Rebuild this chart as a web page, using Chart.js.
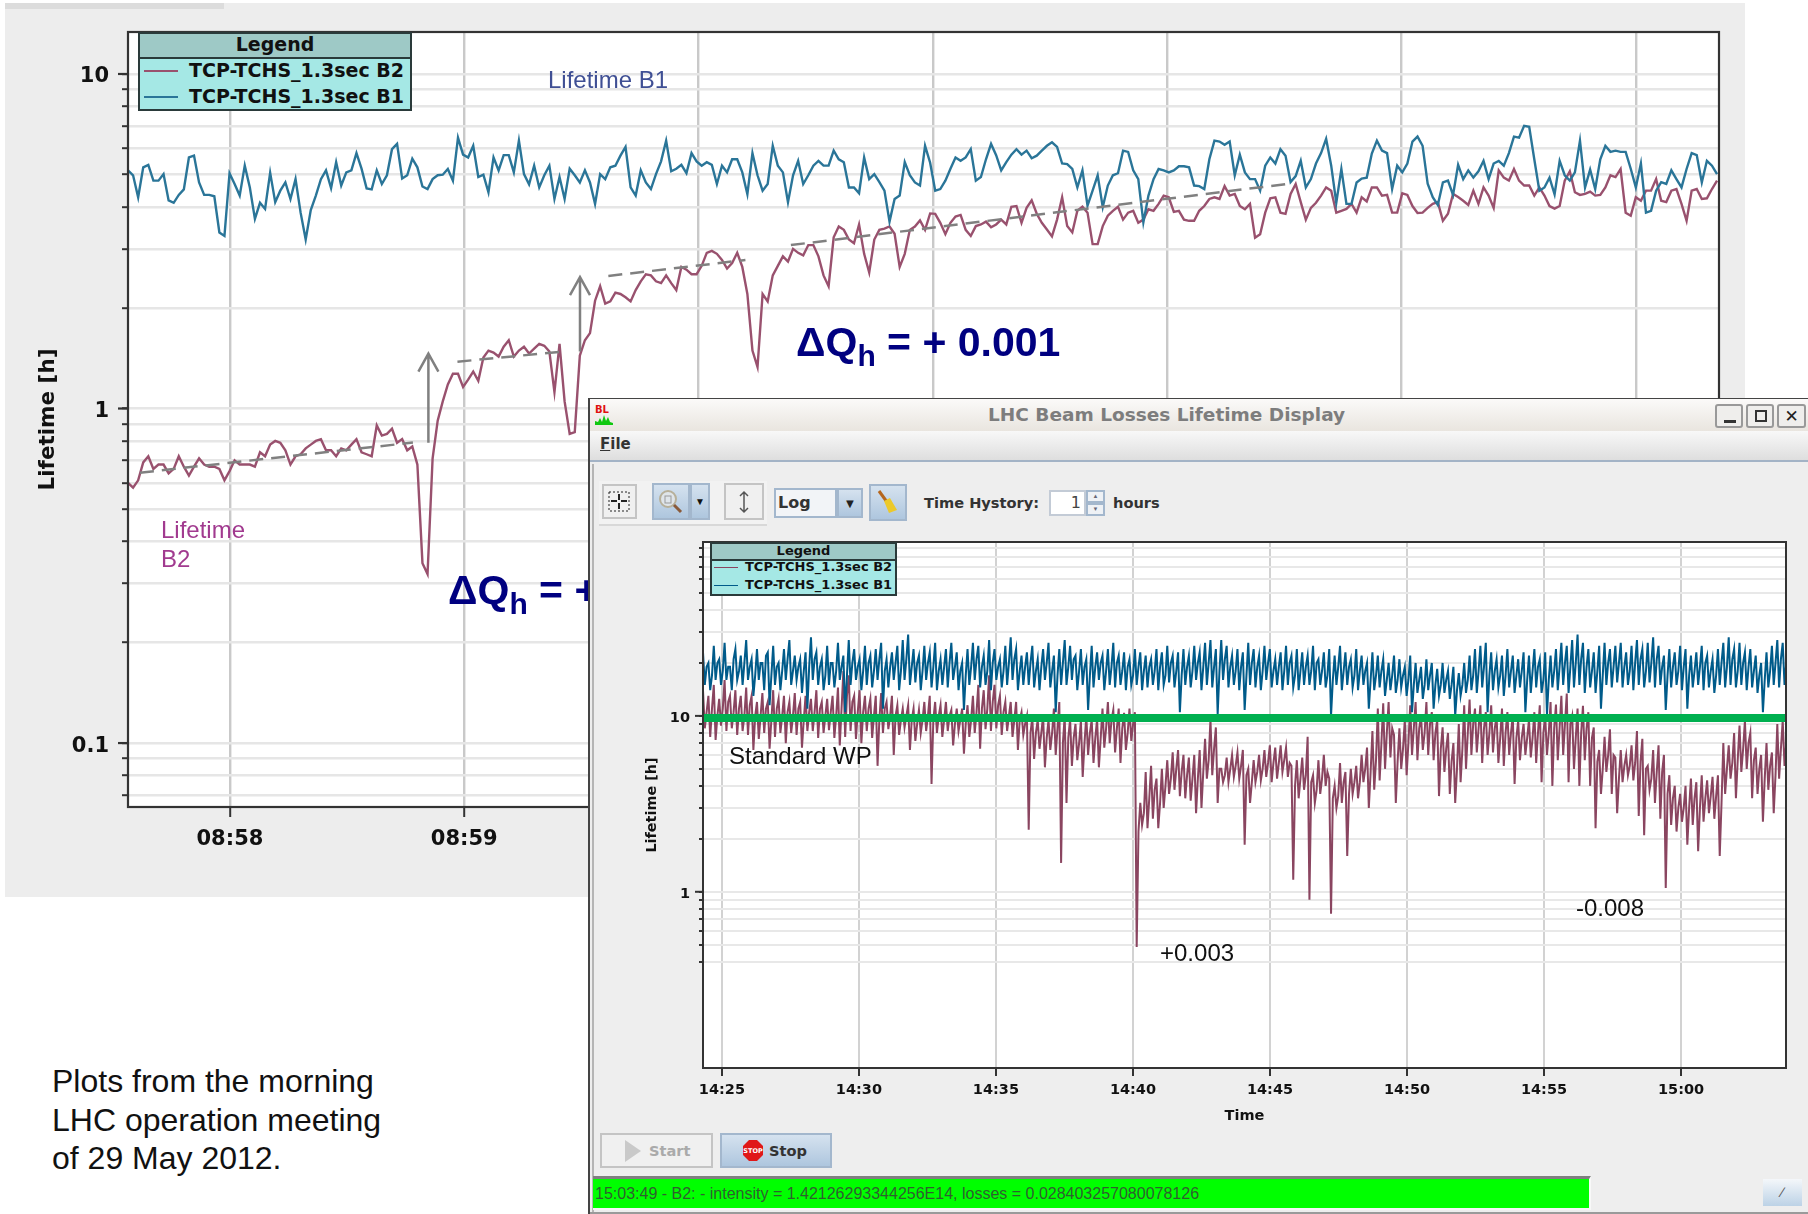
<!DOCTYPE html>
<html>
<head>
<meta charset="utf-8">
<title>LHC Beam Losses Lifetime</title>
<script src="https://cdn.jsdelivr.net/npm/chart.js@4/dist/chart.umd.min.js"></script>
<style>
html,body{margin:0;padding:0;background:#fff;width:1808px;height:1214px;overflow:hidden;font-family:"Liberation Sans",Arial,sans-serif}
.a{position:absolute;white-space:nowrap;box-sizing:border-box}
.d{font-family:"DejaVu Sans",sans-serif;font-weight:bold}
.legend{background:#a5e8e5;border:2px solid #2a3a3a;color:#111}
.legend .head{position:absolute;left:0;right:0;top:0;background:#9ec9c6;border-bottom:2px solid #2a3a3a;text-align:center}
.btn{border:2px solid #c4c4c4;background:#f0f0f0}
.on{border:2px solid #a3b7cd;background:linear-gradient(#d5e2ef,#aec6de)}
.dq{color:#000080;font-weight:bold;font-size:41px}
.dq sub{font-size:30px;vertical-align:-10px;line-height:0}
.note{font-size:24px;color:#111}
canvas{position:absolute}
</style>
</head>
<body>

<!-- morning plot -->
<div class="a" style="left:5px;top:3px;width:1740px;height:894px;background:#ededed"></div>
<div class="a" style="left:5px;top:3px;width:219px;height:6px;background:#dcdcdc"></div>
<canvas id="topChart" style="left:4px;top:3px;filter:blur(.45px)"></canvas>

<div class="a legend" style="left:138px;top:32px;width:274px;height:79px">
  <div class="head d" style="height:23px;font-size:19px;line-height:21px">Legend</div>
  <div class="a" style="left:4px;top:36px;width:34px;height:2px;background:#99516e"></div>
  <div class="a" style="left:4px;top:62px;width:34px;height:2px;background:#2a7598"></div>
  <div class="a d" style="left:49px;top:25px;font-size:19px">TCP-TCHS_1.3sec B2</div>
  <div class="a d" style="left:49px;top:51px;font-size:19px">TCP-TCHS_1.3sec B1</div>
</div>
<div class="a" style="left:548px;top:66px;font-size:24px;color:#3f4f94">Lifetime B1</div>
<div class="a" style="left:161px;top:515px;font-size:24px;line-height:29px;color:#a13a8f">Lifetime<br>B2</div>
<div class="a dq" style="left:796px;top:319px">&Delta;Q<sub>h</sub> = + 0.001</div>
<div class="a dq" style="left:448px;top:567px">&Delta;Q<sub>h</sub> = +</div>
<div class="a" style="left:52px;top:1062px;font-size:32px;line-height:38.6px;color:#111">Plots from the morning<br>LHC operation meeting<br>of 29 May 2012.</div>

<!-- lifetime display window -->
<div class="a" style="left:588px;top:398px;width:1220px;height:816px;background:#eeeeee;border-left:2px solid #444;border-top:1px solid #444"></div>
<div class="a" style="left:590px;top:399px;width:1218px;height:32px;background:linear-gradient(#fbfaf9,#e9e5df)"></div>
<div class="a d" style="left:988px;top:404px;font-size:18.5px;color:#7d7d7d">LHC Beam Losses Lifetime Display</div>
<svg class="a" style="left:594px;top:403px" width="24" height="24">
  <text x="1" y="10" font-size="10" font-weight="bold" font-family="DejaVu Sans" fill="#e01010">BL</text>
  <path d="M1 22V18L4 19L6 15L8 19L10 12L12 18L14 14L16 19L19 20V22Z" fill="#10c810"/>
</svg>
<div class="a btn" style="left:1715px;top:404px;width:28px;height:24px;border-color:#999;border-radius:3px;background:#efeeec"><div class="a" style="left:7px;top:14px;width:12px;height:3px;background:#333"></div></div>
<div class="a btn" style="left:1746px;top:404px;width:28px;height:24px;border-color:#999;border-radius:3px;background:#efeeec"><div class="a" style="left:7px;top:4px;width:12px;height:12px;border:2px solid #333"></div></div>
<div class="a btn d" style="left:1777px;top:404px;width:29px;height:24px;border-color:#999;border-radius:3px;background:#efeeec;font-size:17px;line-height:20px;text-align:center;color:#222">&#x2715;</div>
<div class="a" style="left:590px;top:431px;width:1218px;height:31px;background:linear-gradient(#f8f8f8,#dedede);border-bottom:2px solid #a3b3c6"></div>
<div class="a d" style="left:600px;top:435px;font-size:15px;color:#333"><u>F</u>ile</div>
<div class="a" style="left:592px;top:464px;width:2px;height:750px;background:#b5b5b5"></div>

<div class="a" style="left:599px;top:481px;width:168px;height:45px;background:#f2f2f2;border-bottom:2px solid #d8d8d8"></div>
<div class="a btn" style="left:602px;top:484px;width:35px;height:35px"></div>
<svg class="a" style="left:606px;top:489px" width="26" height="25"><rect x="3" y="3" width="20" height="19" fill="none" stroke="#222" stroke-dasharray="2 2"/><path d="M13 5v6M13 20v-6M5 12h6M21 12h-6" stroke="#222" stroke-width="2"/></svg>
<div class="a on" style="left:652px;top:483px;width:38px;height:37px"></div>
<svg class="a" style="left:656px;top:488px" width="30" height="28"><circle cx="12" cy="11" r="8" fill="#dfe5ea" stroke="#b7b09a" stroke-width="2"/><rect x="9" y="8" width="6" height="7" fill="none" stroke="#999"/><path d="M18 17l7 7" stroke="#8a5a3a" stroke-width="3"/></svg>
<div class="a on" style="left:690px;top:483px;width:20px;height:37px;font-size:10px;line-height:33px;text-align:center;color:#111">&#9660;</div>
<div class="a btn" style="left:724px;top:483px;width:40px;height:37px"></div>
<svg class="a" style="left:737px;top:490px" width="14" height="24"><path d="M7 2v20M3 6l4-4 4 4M3 18l4 4 4-4" fill="none" stroke="#555" stroke-width="1.5"/></svg>
<div class="a on" style="left:774px;top:488px;width:63px;height:30px;background:#f2f4f7"></div>
<div class="a d" style="left:778px;top:493px;font-size:16px;color:#333;font-weight:bold">Log</div>
<div class="a on" style="left:837px;top:488px;width:26px;height:30px;font-size:13px;line-height:27px;text-align:center;color:#222">&#9660;</div>
<div class="a on" style="left:869px;top:484px;width:38px;height:37px"></div>
<svg class="a" style="left:875px;top:489px" width="26" height="28"><path d="M4 2l8 11" stroke="#b5661c" stroke-width="3"/><path d="M9 12l6-3 7 12-8 3z" fill="#ecc92a"/></svg>
<div class="a d" style="left:924px;top:494px;font-size:14.6px;color:#333">Time Hystory:</div>
<div class="a" style="left:1049px;top:490px;width:37px;height:26px;background:#fff;border:2px solid #c3cbd6;text-align:right;padding-right:3px;font-size:16px;line-height:22px;color:#444;font-family:'DejaVu Sans'">1</div>
<div class="a on" style="left:1086px;top:490px;width:19px;height:13px;background:#eef1f5;font-size:6px;line-height:9px;text-align:center;color:#667">&#9650;</div>
<div class="a on" style="left:1086px;top:503px;width:19px;height:13px;background:#eef1f5;font-size:6px;line-height:9px;text-align:center;color:#667">&#9660;</div>
<div class="a d" style="left:1113px;top:494px;font-size:14.6px;color:#333">hours</div>

<canvas id="fieldChart" style="left:596px;top:500px"></canvas>

<div class="a legend" style="left:710px;top:542px;width:187px;height:54px">
  <div class="head d" style="height:15px;font-size:13px;line-height:13px">Legend</div>
  <div class="a" style="left:2px;top:23px;width:24px;height:1px;background:#8a4560"></div>
  <div class="a" style="left:2px;top:41px;width:24px;height:1px;background:#005b8a"></div>
  <div class="a d" style="left:33px;top:15px;font-size:13px">TCP-TCHS_1.3sec B2</div>
  <div class="a d" style="left:33px;top:33px;font-size:13px">TCP-TCHS_1.3sec B1</div>
</div>
<div class="a" style="left:729px;top:742px;font-size:24px;color:#111">Standard WP</div>
<div class="a note" style="left:1160px;top:939px">+0.003</div>
<div class="a note" style="left:1576px;top:894px">-0.008</div>

<div class="a btn" style="left:600px;top:1133px;width:113px;height:35px"></div>
<svg class="a" style="left:624px;top:1139px" width="18" height="24"><path d="M1 1L17 12L1 23Z" fill="#c9c9c9"/></svg>
<div class="a d" style="left:649px;top:1142px;font-size:14.6px;color:#aaa">Start</div>
<div class="a on" style="left:720px;top:1133px;width:112px;height:35px"></div>
<svg class="a" style="left:742px;top:1139px" width="22" height="23"><path d="M7 1H15L21 7V16L15 22H7L1 16V7Z" fill="#e01818"/><text x="11" y="14" font-size="6.5" font-weight="bold" text-anchor="middle" fill="#fff" font-family="DejaVu Sans">STOP</text></svg>
<div class="a d" style="left:769px;top:1142px;font-size:14.6px;color:#333">Stop</div>

<div class="a" style="left:593px;top:1176px;width:998px;height:34px;background:#00ff00;border-top:3px solid #7f7f7f;border-right:2px solid #f8f8f8;border-bottom:2px solid #f8f8f8;font-size:16px;line-height:29px;color:#2f5f2f;padding-left:2px">15:03:49 - B2: - intensity = 1.42126293344256E14, losses = 0.028403257080078126</div>
<div class="a" style="left:1763px;top:1179px;width:39px;height:27px;background:linear-gradient(#f4f7fa,#bcd2e6);text-align:center;font-size:14px;line-height:27px;color:#555">&#8725;</div>
<div class="a" style="left:590px;top:1212px;width:1218px;height:2px;background:#9a9a9a"></div>

<script>
// morning plot, one reading every 1.3 s, lifetime in hours
const topStartMin = 537.565;
const topEndMin = 544.355;
const topStepSec = 1.3;
const topTimeTicks = ['08:58','08:59','09:00','09:01','09:02','09:03','09:04'];
const topLifetimeTicks = [0.07,0.08,0.09,0.1,0.2,0.3,0.4,0.5,0.6,0.7,0.8,0.9,1,2,3,4,5,6,7,8,9,10];

const topB1 = [
5.15,4.98,4.28,5.26,5.35,4.8,4.8,5.02,4.19,4.12,4.35,4.52,5.63,5.7,4.74,4.35,4.35,4.31,3.36,3.28,
5.05,4.69,4.33,5.32,4.58,3.69,4.12,3.95,5.07,4.14,4.48,4.74,4.23,4.85,3.85,3.2,3.92,4.33,4.85,5.15,
4.56,5.45,4.64,5.08,5.15,5.8,5.21,4.55,4.52,5.15,4.69,4.98,5.96,6.18,4.87,4.98,5.58,5.26,4.61,4.53,
4.85,4.98,5.0,5.2,4.8,6.45,5.74,5.63,6.1,4.92,5.0,4.43,5.63,5.15,5.72,5.72,5.08,6.32,5.02,
4.68,5.32,4.58,4.98,5.32,4.23,4.92,4.23,5.21,4.98,4.74,5.15,4.74,4.09,5.02,4.85,5.26,5.32,5.7,6.05,
4.58,4.33,5.15,4.74,4.53,5.02,5.48,6.32,5.12,5.21,5.35,5.05,5.8,5.48,5.32,5.45,5.35,4.69,5.32,5.08,
5.56,5.56,5.08,4.37,5.8,4.98,4.48,4.69,6.1,5.32,5.08,4.14,4.98,5.5,4.69,4.98,5.32,5.5,5.32,5.32,
5.9,5.56,5.45,4.58,4.58,4.4,5.63,4.85,5.02,4.75,4.48,3.62,4.23,4.33,5.45,4.98,4.74,4.64,6.1,
5.43,4.48,4.53,4.8,5.21,5.63,5.5,5.63,5.96,4.8,4.92,5.56,6.18,5.72,5.15,5.45,5.74,5.96,5.74,5.9,
5.6,5.7,5.9,6.1,6.25,6.05,5.4,5.38,5.2,4.58,5.15,4.04,4.48,4.98,4.0,4.64,4.98,5.05,5.9,5.85,
5.15,4.85,3.6,4.33,4.85,5.2,5.15,5.08,5.15,5.3,5.3,5.26,4.64,4.62,4.53,5.56,6.32,6.28,6.14,6.28,
4.98,5.74,5.08,4.85,4.85,4.48,5.32,5.63,5.4,5.96,5.7,4.75,4.95,5.5,4.58,4.85,5.4,5.8,6.4,
5.32,4.12,5.2,4.09,4.09,4.74,4.87,4.9,5.78,6.32,5.9,5.8,4.53,5.32,5.08,5.4,6.28,6.5,6.1,4.7,
4.28,4.06,4.74,4.8,4.35,5.35,4.85,5.15,4.9,5.12,5.5,4.85,5.4,5.5,5.32,5.8,6.5,6.45,7.0,6.95,
5.56,4.48,4.58,4.9,4.37,5.5,4.98,4.8,5.08,6.32,4.58,5.18,4.53,5.56,6.1,5.85,5.9,5.85,5.85,5.21,
4.58,5.4,3.85,3.9,4.48,4.75,4.69,5.15,4.85,4.58,5.2,5.8,5.72,4.74,5.5,5.32,5.02
];

const topB2 = [
0.6,0.58,0.61,0.69,0.72,0.66,0.68,0.68,0.64,0.66,0.72,0.67,0.63,0.67,0.71,0.68,0.67,0.67,0.66,0.61,
0.65,0.7,0.68,0.68,0.68,0.67,0.74,0.72,0.78,0.8,0.79,0.75,0.68,0.72,0.73,0.76,0.78,0.8,0.81,0.75,
0.75,0.72,0.76,0.75,0.78,0.81,0.74,0.73,0.72,0.89,0.83,0.84,0.87,0.79,0.81,0.75,0.77,0.68,0.345,0.32,
0.71,0.92,1.05,1.18,1.27,1.27,1.16,1.22,1.29,1.21,1.42,1.49,1.47,1.43,1.53,1.6,1.43,1.49,1.53,1.46,
1.51,1.56,1.54,1.48,1.12,1.56,1.05,0.84,0.85,1.44,1.6,1.68,2.1,2.32,2.06,2.09,2.22,2.2,2.15,2.09,
2.26,2.4,2.52,2.5,2.4,2.37,2.5,2.37,2.26,2.65,2.6,2.52,2.52,2.67,2.92,2.96,2.9,2.78,2.62,2.72,
2.92,2.65,2.2,1.49,1.33,2.2,2.09,2.5,2.67,2.85,2.75,3.0,2.92,2.87,3.08,3.08,2.85,2.5,2.32,3.25,
3.5,3.42,3.2,3.12,3.55,2.9,2.55,3.2,3.42,3.45,3.5,3.33,2.65,2.9,3.42,3.5,3.65,3.42,
3.83,3.82,3.59,3.32,3.59,3.75,3.79,3.42,3.28,3.51,3.55,3.62,3.48,3.55,3.67,3.55,4.01,4.03,3.59,3.98,
4.19,3.82,3.59,3.43,3.27,3.67,4.28,3.51,3.36,3.9,4.01,3.85,3.1,3.1,3.51,3.77,3.9,4.01,3.67,3.85,
3.9,3.59,3.67,3.94,3.9,4.09,4.33,4.28,3.87,3.9,3.67,3.64,3.64,3.9,4.03,4.23,4.28,4.23,4.62,4.33,
4.38,4.03,3.94,4.09,3.24,3.32,3.85,4.25,4.28,3.85,3.82,4.38,4.69,4.14,3.67,3.98,4.12,4.33,4.58,
4.48,3.85,3.9,3.95,4.09,3.85,4.28,4.16,4.58,4.58,4.33,4.35,3.85,3.85,4.4,4.35,4.03,3.84,3.85,3.98,
4.09,4.14,3.64,3.82,4.38,4.29,4.18,4.06,4.48,4.09,4.58,4.33,3.98,5.15,4.9,4.8,5.2,4.8,4.64,4.64,
4.33,4.58,4.33,4.03,3.96,4.03,4.8,5.12,4.43,4.35,4.38,4.45,4.33,4.35,4.58,4.98,4.92,5.2,3.85,3.77,
4.28,4.18,4.48,4.48,4.85,4.18,4.14,4.48,4.53,4.09,3.64,4.48,4.53,4.23,4.25,4.53,4.8
];

// dashed trend pieces and the arrows, minutes and hours
const trendStartMin = [537.616,538.971,539.615,540.394];
const trendEndMin = [538.781,539.42,540.2,542.511];
const trendStartVal = [0.643,1.38,2.49,3.08];
const trendEndVal = [0.791,1.48,2.78,4.69];
const arrowMin = [538.847,539.494];
const arrowFromVal = [0.79,1.48];
const arrowToVal = [1.46,2.47];

// display window, three readings per pixel column: high, low, middle
const fieldStartMin = 864.31;
const fieldEndMin = 903.83;
const fieldStepSec = 3.94;
const fieldTimeTicks = ['14:25','14:30','14:35','14:40','14:45','14:50','14:55','15:00'];
const fieldLifetimeTicks = [0.4,0.5,0.6,0.7,0.8,0.9,1,2,3,4,5,6,7,8,9,10,20,30,40,50,60,70,80,90];
const workingPointVal = 9.74;

const fieldB1 = [
23,15,19,20,14,17,25,16,20,21,15,18,26,16,19,19,14,21,24,16,18,22,15,20,27,16,19,21,13,17,
24,16,20,20,14,22,23,11.5,17,25,15,19,20,14,18,24,16,21,27,15,18,22,16,19,21,13.5,18,23,11,19,
28,16,21,23,15,19,21,14,17,25,15,20,20,14.5,18,26,16,19,22,10.5,17,27,15,20,24,16,19,21,14,18,
25,15,20,22,14.5,18,24,16,21,26,11,18,21,14.5,19,23,16,20,25,14,18,27,16,21,29,15,19,24,15.5,20,
22,14,18,25,16,20,23,14.5,19,26,14,18,21,15,19,24,14.5,20,26,16,19,23,14,18,20,10.8,17,24,15,19,
26,16,21,25,14.5,19,22,15,18,27,14,20,24,16,19,21,14.5,18,25,15,20,28,16,21,24,14,18,22,15,19,
23,15,20,25,14.5,18,21,14,19,24,16,20,26,14.5,18,22,10.5,17,24,15,20,27,15,19,25,16,21,22,14,18,
24,15,19,21,10.8,17,25,14.5,19,23,16,20,22,14,18,24,15,19,26,14.5,20,22,15,18,23,14,19,21,15,17,
24,15,19,23,14,18,22,14.5,19,21,15,18,24,14,19,23,15,17,25,15.5,20,22,14.5,18,23,10.5,17,24,15,19,
22,14.5,18,25,16,20,23,14,19,26,15,20,27,14.5,19,24,10.2,18,27,16,21,25,14.5,19,22,15,18,24,14,19,
23,10.8,17,26,15,20,24,14.5,19,22,14,18,25,16,20,24,14.5,18,21,15,19,23,14,18,25,15,20,22,14.5,17,
24,14,18,23,15,19,22,15,18,25,14,20,21,15,18,23,14.5,17,24,10,16,22,15,19,25,14,18,23,15,19,
21,14.5,17,24,14,18,22,15,18,20,11,16,23,14,17,22,14.5,18,21,13,16,20,14,17,22,13.5,16,21,14.5,17,
19,13,16,22,10.5,15,20,13.5,16,19,12.5,15,21,14,17,20,11,15,18.5,13,15,20,13.5,16,18,12.5,15,19,10,14,
17.5,13,15,20,13.5,16,22,14,17,24,13.5,18,25,14.5,19,26,10.5,17,23,14,18,21,14.5,17,22,13,17,24,14.5,18,
22,13.5,17,21,14.5,18,23,10.5,16,22,13.5,18,24,14.5,19,21,13.5,16,23,10.2,16,22,14.5,18,24,14,19,26,15,20,
25,13.5,19,27,14.5,20,29,15,21,26,13.5,19,24,14.5,18,23,13.5,18,25,11,17,26,15,20,24,14.5,19,25,15.5,20,
26,14.5,19,23,15,18,25,14,20,27,15,21,24,14.5,18,26,15.5,20,28,14.5,21,25,15,19,22,10.8,17,24,14.5,19,
23,15,18,25,14,19,24,11,17,22,14.5,18,23,15,19,25,14,20,22,14.5,18,21,13.5,17,24,15,20,26,14.5,19,
28,15,21,24,14.5,18,26,15,20,23,14,19,24,14.5,18,22,13.5,17,20,10.5,16,23,14.5,18,25,15,20,27,14.5,21,
26,15,20
];

const fieldB2 = [
14,8.5,10.5,13,7.6,11,15,7.3,10,12.5,8.8,11,16,8.2,12,13,8.5,10.5,14,7.8,11,13,8.2,10,14.5,7.8,11.5,13,6.4,10,
12,7.4,10,13.5,8,11,12,6.5,9.5,14,7.6,11,12.5,8,10,13,7,10.5,12,8,10,13.5,7.8,11,12,6.6,9.5,13,8.2,10.5,
12.5,8.2,10.5,14,7.5,11,12,8,10,12.5,8.3,10.5,13,7.5,10,14.5,6.8,11,18,7.6,13,17,8.2,12,13,7.4,10.5,14,7,10.5,
13,8.2,11,12.5,7.5,10,13,5.2,9.5,13.5,8,11,12,8.4,10,13,6,10,11.5,7.8,9.5,11,8.6,10,11.5,6.4,9.5,11,7.2,9,
10.8,8,9.5,12,8.2,10,13,4.1,9.5,12,8,10,11.5,7.6,9.5,12,8.2,10,10.8,6.8,9,11,8.2,9.5,11,6.1,9,11.5,7.6,9.5,
13,8,10.5,15,6.5,11,14,8.4,11,17,8.2,12,15,8.5,11.5,13,7.8,10.5,12,8.2,10,12,7.6,9.5,12,6.4,9.5,10.5,7.8,9,
10,2.25,8,9.8,5.7,8,9.5,6.5,8,10,5.1,7.5,9.5,6.4,8,11,6,8.5,12,1.46,7,10,3.2,7.5,9.6,5.2,7.5,9,5.6,7,
9.4,4.5,7,10,6,8,9.5,5.4,7.5,9.6,5.1,7.5,11,6.6,8.5,12,7,9.5,10.8,6.2,8.5,11,5.4,8.5,10.4,6.4,8,11,7.2,9,
10.5,0.486,2.2,3.2,2.4,2.8,4.8,2.3,3.4,5.2,2.6,3.8,4.4,2.3,3.2,5,3,4,5.6,3.6,4.4,6.2,3.8,5,6.4,3.5,4.8,6,3.4,4.6,
5.8,3.3,4.4,6,2.8,4.4,6.4,3,4.8,7.4,4.4,5.6,9.6,4.6,6.5,8.6,3.2,5,5,4.2,4.6,5.8,4.2,5,6,4.5,5.2,6.2,4.4,5.2,
6.4,1.85,4.6,5,3.2,4.2,5.6,4.2,4.8,6,4.3,5,6.4,4.5,5.4,6.8,4.2,5.4,6.6,4.4,5.4,6.8,4.8,5.6,6.6,4.5,5.4,5.2,1.17,4,
5.6,3.4,4.4,5.8,3.8,4.6,7.6,0.9,4.2,4.6,3.2,3.8,5.6,3.6,4.4,6,4,4.8,4.4,0.75,3.4,4,3,3.5,5.4,3.2,4.2,4.8,1.6,3.6,
5,3.6,4.2,5.2,3.4,4.2,6,4.2,5,6.6,3,4.8,8.2,3.8,5.6,11,4.3,7,11.8,5,8,12,5.8,8.5,7.8,3.2,5.5,8.5,5,6.5,
9.5,4.6,7,11.5,6,8.5,12,5.6,8.5,10,6.4,8,12,6,9,10.5,5.6,8,9.5,3.5,6.5,8.6,4.8,6.5,8,3.6,5.5,7,3.2,5,
9,4.2,6.5,11.5,5,8,12.4,6,9,11,6.2,8.5,11.5,5.4,8.5,10.5,6,8,11.5,6.2,8.5,10,5.4,7.5,11,5.2,8,10.5,6,8,
10,4.1,7.5,9.4,5.6,7.5,9,6,7.5,9.5,5.8,7.5,10.5,5.4,8,11.5,4.2,8,10,6,8,12,4,8.5,11.6,5.6,8.5,13,6,9,
13.4,4.2,9,10,5,7.5,11,4,8,11.4,5.6,8.5,10.5,4,7.5,8.6,2.3,5.5,6.4,3.6,5,7.6,4.8,6,8.4,3.6,6,5.8,2.8,4.4,
6.4,4.2,5.2,6,4.6,5.2,6.8,4.3,5.4,8.2,2.7,5.5,7.4,2.1,5,5.2,3.8,4.4,6.4,3.2,4.8,6.8,2.6,4.8,6,1.05,3.6,4.6,2.4,3.4,
4,2.2,3,3.6,2.5,3,4,1.85,3,4.4,2.4,3.4,4.2,1.7,3,4.6,2.5,3.4,4.3,2.8,3.5,4.5,2.6,3.5,4.6,1.6,3.2,7,3.6,5,
6.8,4.4,5.4,8,3.4,5.6,8.8,4.8,6.5,9.4,5,7,8,3.4,5.6,6.6,3.6,5,6,2.5,4.4,7,3.8,5.2,6.2,2.8,4.6,9,4.4,6.5,
9.4,5.2,7
];

function hhmmToMin(s){
	let p = s.split(':');
	return Number(p[0])*60 + Number(p[1]);
}
function minToHhmm(m){
	let h = Math.floor(m/60);
	let rest = Math.round(m - h*60);
	return String(h).padStart(2,'0') + ':' + String(rest).padStart(2,'0');
}
function toPoints(vals, startMin, stepSec){
	return vals.map((v,i) => ({x: startMin + i*stepSec/60, y: v}));
}
function lineSet(data, color, width){
	return {data: data, borderColor: color, borderWidth: width, pointRadius: 0, tension: 0, fill: false};
}

// white plot area, frame around it, longer ticks on the decades, arrows
const framePlugin = {
	id: 'frame',
	beforeDraw(chart){
		let a = chart.chartArea;
		chart.ctx.fillStyle = '#fff';
		chart.ctx.fillRect(a.left, a.top, a.right-a.left, a.bottom-a.top);
	},
	afterDraw(chart, args, opts){
		let c = chart.ctx, a = chart.chartArea, y = chart.scales.y;
		c.save();
		if(opts.arrows){
			c.strokeStyle = '#808080';
			c.lineWidth = 2.5;
			opts.arrows.minutes.forEach((m,i) => {
				let px = chart.scales.x.getPixelForValue(m);
				let y0 = y.getPixelForValue(opts.arrows.from[i]);
				let y1 = y.getPixelForValue(opts.arrows.to[i]);
				c.beginPath();
				c.moveTo(px,y0); c.lineTo(px,y1);
				c.moveTo(px-10,y1+18); c.lineTo(px,y1); c.lineTo(px+10,y1+18);
				c.stroke();
			});
		}
		c.strokeStyle = opts.color;
		c.lineWidth = opts.width;
		c.strokeRect(a.left, a.top, a.right-a.left, a.bottom-a.top);
		y.ticks.forEach(t => {
			if(t.label === '') return;
			let py = y.getPixelForValue(t.value);
			c.beginPath();
			c.moveTo(a.left-opts.majorTick, py);
			c.lineTo(a.left, py);
			c.stroke();
		});
		c.restore();
	}
};

function buildChart(id, w, h, cfg){
	let el = document.getElementById(id);
	el.width = w; el.height = h;
	el.style.width = w + 'px'; el.style.height = h + 'px';
	return new Chart(el, {
		type: 'line',
		data: {datasets: cfg.datasets},
		plugins: [framePlugin],
		options: {
			responsive: false,
			animation: false,
			spanGaps: true,
			normalized: true,
			layout: {padding: cfg.padding},
			plugins: {
				legend: {display: false},
				tooltip: {enabled: false},
				frame: cfg.frame
			},
			scales: {
				x: {
					type: 'linear',
					min: cfg.xMin, max: cfg.xMax,
					afterBuildTicks(s){ s.ticks = cfg.xTicks.map(t => ({value: hhmmToMin(t)})); },
					afterFit(s){ s.height = cfg.xHeight; },
					grid: {color: cfg.vGrid, lineWidth: cfg.gridWidth, tickLength: cfg.xTickLen, tickColor: '#333', tickWidth: 2},
					border: {display: false},
					ticks: {
						autoSkip: false, maxRotation: 0, padding: cfg.xPad, color: '#111',
						font: {family: 'DejaVu Sans', weight: 'bold', size: cfg.tickFont},
						callback: v => minToHhmm(v)
					},
					title: cfg.xTitle
				},
				y: {
					type: 'logarithmic',
					min: cfg.yMin, max: cfg.yMax,
					afterBuildTicks(s){ s.ticks = cfg.yTicks.map(t => ({value: t})); },
					afterFit(s){ s.width = cfg.yWidth; },
					grid: {color: cfg.hGrid, lineWidth: cfg.gridWidth, tickLength: cfg.yTickLen, tickColor: '#333', tickWidth: 2},
					border: {display: false},
					ticks: {
						autoSkip: false, padding: cfg.yPad, color: '#111', labelOffset: cfg.yLabelShift,
						font: {family: 'DejaVu Sans', weight: 'bold', size: cfg.tickFont},
						callback: v => cfg.yLabels.includes(v) ? String(v) : ''
					},
					title: {
						display: true, text: 'Lifetime [h]', color: '#111', padding: cfg.yTitlePad,
						font: {family: 'DejaVu Sans', weight: 'bold', size: cfg.titleFont}
					}
				}
			}
		}
	});
}

const trendSets = trendStartMin.map((m,i) => {
	let s = lineSet([{x: m, y: trendStartVal[i]}, {x: trendEndMin[i], y: trendEndVal[i]}], '#808080', 2.5);
	s.borderDash = [14,8];
	return s;
});

buildChart('topChart', 1741, 894, {
	datasets: [...trendSets,
		lineSet(toPoints(topB1, topStartMin, topStepSec), '#2a7598', 2.4),
		lineSet(toPoints(topB2, topStartMin, topStepSec), '#99516e', 2.4)],
	padding: {top: 29, right: 26, left: 0, bottom: 0},
	frame: {color: '#333', width: 2.2, majorTick: 10, arrows: {minutes: arrowMin, from: arrowFromVal, to: arrowToVal}},
	xMin: topStartMin, xMax: topEndMin, xTicks: topTimeTicks,
	xHeight: 90, xTickLen: 10, xPad: 10,
	yMin: 0.0644, yMax: 13.35, yTicks: topLifetimeTicks, yLabels: [0.1,1,10],
	yWidth: 124, yTickLen: 6, yPad: 13, yLabelShift: 3, yTitlePad: {top: 32, bottom: 0},
	vGrid: '#c9c9c9', hGrid: '#e6e6e6', gridWidth: 2.4,
	tickFont: 21, titleFont: 21.5,
	xTitle: {display: false}
});

buildChart('fieldChart', 1212, 625, {
	datasets: [
		lineSet([{x: fieldStartMin, y: workingPointVal}, {x: fieldEndMin, y: workingPointVal}], '#00b050', 8),
		lineSet(toPoints(fieldB1, fieldStartMin, fieldStepSec), '#005b8a', 2),
		lineSet(toPoints(fieldB2, fieldStartMin, fieldStepSec), '#8a4560', 2)],
	padding: {top: 42, right: 22, left: 0, bottom: 0},
	frame: {color: '#333', width: 2, majorTick: 8},
	xMin: fieldStartMin, xMax: fieldEndMin, xTicks: fieldTimeTicks,
	xHeight: 57, xTickLen: 8, xPad: 6,
	yMin: 0.0996, yMax: 97.4, yTicks: fieldLifetimeTicks, yLabels: [1,10],
	yWidth: 107, yTickLen: 4, yPad: 9, yLabelShift: 2, yTitlePad: {top: 48, bottom: 0},
	vGrid: '#d2d2d2', hGrid: '#e8e8e8', gridWidth: 2,
	tickFont: 14.5, titleFont: 14.4,
	xTitle: {display: true, text: 'Time', color: '#111', padding: {top: 6, bottom: 0},
		font: {family: 'DejaVu Sans', weight: 'bold', size: 14.5}}
});
</script>
</body>
</html>
